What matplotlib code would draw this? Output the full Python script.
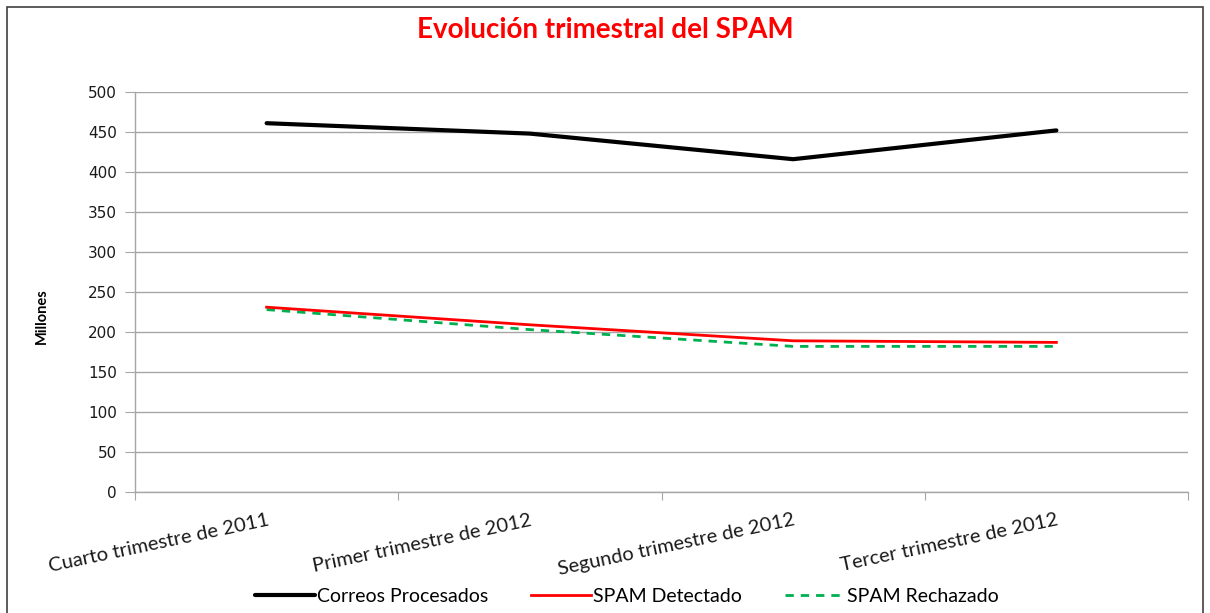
import matplotlib
matplotlib.use("Agg")
import matplotlib.pyplot as plt
from matplotlib.patches import Rectangle

categories = ["Cuarto trimestre de 2011", "Primer trimestre de 2012",
              "Segundo trimestre de 2012", "Tercer trimestre de 2012"]
correos_procesados = [461, 448, 416, 452]
spam_detectado = [231, 209, 189, 187]
spam_rechazado = [228, 203, 182, 182]
yticks = [0, 50, 100, 150, 200, 250, 300, 350, 400, 450, 500]

hum = ["Lato", "Open Sans", "DejaVu Sans"]

fig = plt.figure(figsize=(12.10, 6.13), dpi=100)
fig.patch.set_facecolor("white")
fig.patches.append(Rectangle((7/1210, -0.01), (1203-7)/1210, 1 - 7/613 + 0.01,
                             transform=fig.transFigure, fill=False,
                             edgecolor="#404040", linewidth=1.2))

ax = fig.add_axes([135/1210, 1 - 492/613, (1188-135)/1210, (492-92)/613])
x = list(range(len(categories)))
ax.plot(x, correos_procesados, color="black", lw=3.0, solid_capstyle="round",
        label="Correos Procesados", zorder=4)
ax.plot(x, spam_detectado, color="#FF0000", lw=2.0, label="SPAM Detectado", zorder=3)
ax.plot(x, spam_rechazado, color="#00B050", lw=2.0, ls=(0, (3, 2.5)),
        label="SPAM Rechazado", zorder=2)

ax.set_xlim(-0.5, len(categories) - 0.5)
ax.set_ylim(0, 500)
ax.set_yticks(yticks)
ax.set_yticklabels([str(v) for v in yticks], fontsize=11, color="#1a1a1a",
                   family="DejaVu Sans")
ax.grid(axis="y", color="#A6A6A6", lw=1.0)
ax.set_axisbelow(True)
for s in ["top", "right"]:
    ax.spines[s].set_visible(False)
for s in ["left", "bottom"]:
    ax.spines[s].set_color("#A6A6A6")
    ax.spines[s].set_linewidth(1.0)
ax.tick_params(axis="y", length=7, color="#A6A6A6", pad=6)

ax.set_xticks([i - 0.5 for i in range(len(categories) + 1)])
ax.set_xticklabels([])
ax.tick_params(axis="x", which="major", length=6, color="#A6A6A6")
ax.set_xticks(x, minor=True)
ax.set_xticklabels(categories, minor=True, rotation=12, ha="right", va="top",
                   rotation_mode="anchor", fontsize=14.5, family=hum, color="#1a1a1a")
ax.tick_params(axis="x", which="minor", length=0, pad=14)
for lbl in ax.get_xticklabels(minor=True):
    lbl.set_x(lbl.get_position()[0])

fig.text(42/1210, 1 - 316/613, "Millones", rotation=90, fontsize=10.5,
         fontweight="bold", family=hum, ha="center", va="center")

fig.text(0.5, 1 - 30/613, "Evolución trimestral del SPAM", color="#FF0000",
         fontsize=20, fontweight="bold", family=hum, ha="center", va="center")

leg = fig.legend(loc="center", bbox_to_anchor=(627/1210, 1 - 596/613), ncol=3,
                 frameon=False, prop={"family": hum, "size": 14},
                 handlelength=3.1, handletextpad=0.1, columnspacing=2.2)

fig.savefig("out.png", dpi=100, facecolor="white")
